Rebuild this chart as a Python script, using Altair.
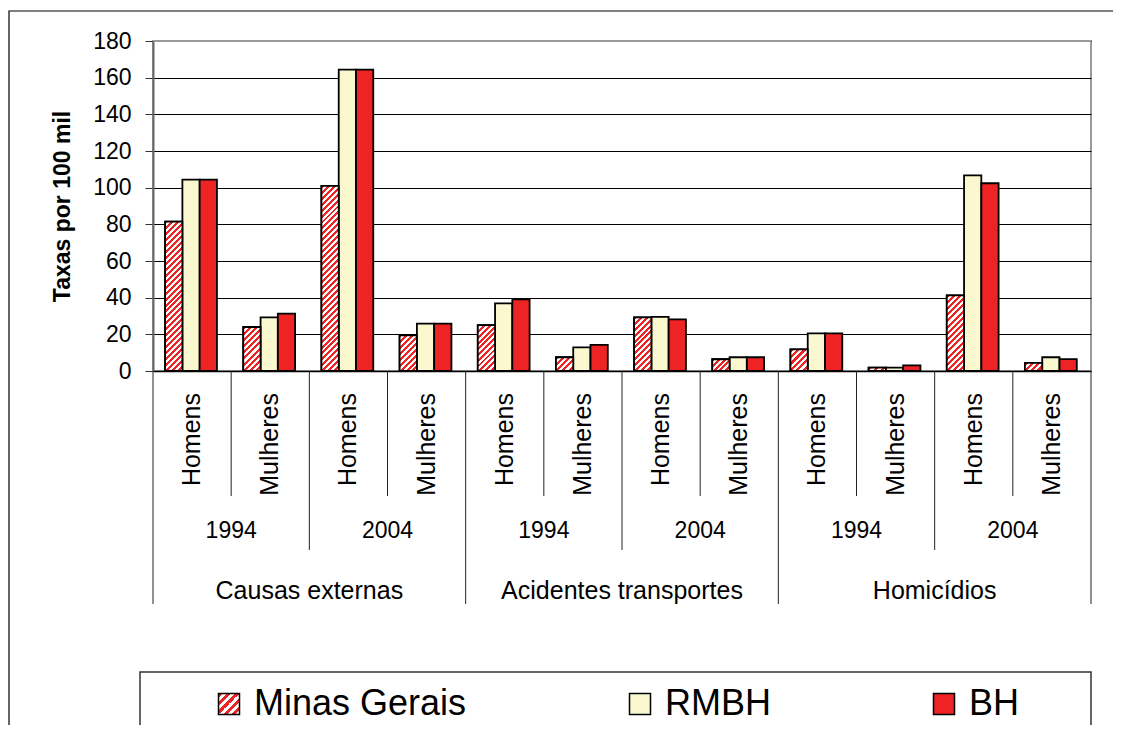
import json
import altair as alt

# ---------------- data ----------------
causes = ["Causas externas", "Acidentes transportes", "Homicídios"]
years = ["1994", "2004"]
sexes = ["Homens", "Mulheres"]
series = ["Minas Gerais", "RMBH", "BH"]

# one value per (cause, year, sex) group, in that order
minas_gerais = [81.5, 24.0, 101.0, 19.5, 25.0, 7.5, 29.3, 6.4, 11.8, 1.8, 41.3, 4.4]
rmbh = [104.4, 29.3, 164.4, 25.8, 36.9, 12.9, 29.5, 7.5, 20.5, 1.8, 106.7, 7.5]
bh = [104.4, 31.3, 164.4, 25.8, 39.1, 14.2, 28.2, 7.5, 20.5, 3.1, 102.4, 6.5]

y_ticks = [0, 20, 40, 60, 80, 100, 120, 140, 160, 180]

# ---------------- layout / style ----------------
W, H = 938, 330
Y_MAX = 180
PX_PER_UNIT = H / Y_MAX
N_GROUPS = len(causes) * len(years) * len(sexes)
GROUP_PX = W / N_GROUPS
BAR_START, BAR_W = 0.155, 0.221
RED = "#EE2424"
CREAM = "#FBF8D0"
FONT = "Liberation Sans"


def stripe_gradient(w_px, h_px, period):
    """Diagonal red/white stripes for a box of w_px x h_px (objectBoundingBox)."""
    n = max(1, round((w_px + h_px) / period))
    k = (w_px + h_px) / (w_px ** 2 + h_px ** 2)
    stops = []
    for i in range(n):
        a, b, c = i / n, (i + 0.5) / n, (i + 1) / n
        stops += [
            {"offset": a, "color": RED},
            {"offset": b, "color": RED},
            {"offset": b, "color": "#FFFFFF"},
            {"offset": c, "color": "#FFFFFF"},
        ]
    return {"gradient": "linear", "x1": 0, "y1": 0,
            "x2": k * w_px, "y2": k * h_px, "stops": stops}


# bar records
bar_rows = []
for si, (name, vals) in enumerate(zip(series, [minas_gerais, rmbh, bh])):
    for g, v in enumerate(vals):
        row = {"g": g, "si": si, "series": name, "value": v}
        if si == 0:
            row["grad"] = stripe_gradient(BAR_W * GROUP_PX, v * PX_PER_UNIT, 6.0)
        bar_rows.append(row)

# label records
sex_rows, year_rows, cause_rows = [], [], []
for ci, c in enumerate(causes):
    cause_rows.append({"label": c, "center": ci * 4 + 2})
    for yi, yv in enumerate(years):
        year_rows.append({"label": yv, "center": ci * 4 + yi * 2 + 1})
        for si, s in enumerate(sexes):
            sex_rows.append({"label": s, "center": ci * 4 + yi * 2 + si + 0.5})

sep_rows = []
for b in range(N_GROUPS + 1):
    if b % (len(years) * len(sexes)) == 0:
        lvl = "cause"
    elif b % len(sexes) == 0:
        lvl = "year"
    else:
        lvl = "sex"
    sep_rows.append({"b": b, "level": lvl})

legend_grad = json.dumps(stripe_gradient(21, 21, 8.5))

# ---------------- chart ----------------
x_scale = alt.Scale(domain=[0, N_GROUPS], nice=False, zero=False)
y_scale = alt.Scale(domain=[0, Y_MAX], nice=False)

y_axis = alt.Axis(
    values=y_ticks,
    title="Taxas por 100 mil",
    titleFontSize=23,
    titleFontWeight="bold",
    titleFont=FONT,
    titleColor="black",
    titleAngle=270,
    titleX=-91,
    titleY=H / 2,
    titleAlign="center",
    titleBaseline="middle",
    labelFontSize=23,
    labelFont=FONT,
    labelColor="black",
    labelPadding=14,
    tickSize=8,
    tickColor="#333333",
    domainColor="#666666",
    domainWidth=2,
    grid=True,
    gridColor="black",
    gridWidth=1.2,
)

x_axis = alt.Axis(labels=False, ticks=False, grid=False, title=None,
                  domainColor="black", domainWidth=1.5)

legend = alt.Legend(
    orient="none", legendX=58, legendY=645, direction="horizontal", title=None,
    labelFontSize=36, labelFont=FONT, labelColor="black", labelOffset=7, labelLimit=400,
    symbolType="square", symbolSize=441, symbolStrokeColor="black", symbolStrokeWidth=1.5,
    symbolOpacity=1, columnPadding=155, padding=0,
)

base = alt.Chart(alt.Data(values=bar_rows)).transform_calculate(
    x0=f"datum.g + {BAR_START} + datum.si * {BAR_W}",
    x1=f"datum.g + {BAR_START} + (datum.si + 1) * {BAR_W}",
    zero="0",
)

bars = base.mark_rect(stroke="black", strokeWidth=1.8).encode(
    x=alt.X("x0:Q", scale=x_scale, axis=x_axis),
    x2="x1:Q",
    y=alt.Y("value:Q", scale=y_scale, axis=y_axis),
    y2="zero:Q",
    fill=alt.Fill(
        "series:N",
        scale=alt.Scale(domain=series, range=[alt.ExprRef(legend_grad), CREAM, RED]),
        legend=legend,
    ),
)

mg = base.transform_filter("datum.si == 0").mark_rect(stroke="black", strokeWidth=1.8).encode(
    x=alt.X("x0:Q", scale=x_scale, axis=x_axis),
    x2="x1:Q",
    y=alt.Y("value:Q", scale=y_scale, axis=y_axis),
    y2="zero:Q",
    fill=alt.Fill("grad:N", scale=None, legend=None),
)

# top edge of the plot (value 180) is drawn grey like the plot frame
top_line = alt.Chart(alt.Data(values=[{"v": Y_MAX}])).mark_rule(color="#9A9A9A", strokeWidth=2).encode(
    y=alt.Y("v:Q", scale=y_scale, axis=y_axis),
    x=alt.value(0),
    x2=alt.value(W),
)

seps = alt.Chart(alt.Data(values=sep_rows))
sep_len = {"sex": 125, "year": 179, "cause": 233}
sep_layers = [
    seps.transform_filter(f"datum.level == '{lvl}'").mark_rule(color="#222222", strokeWidth=1).encode(
        x=alt.X("b:Q", scale=x_scale, axis=x_axis),
        y=alt.value(H),
        y2=alt.value(H + L),
    )
    for lvl, L in sep_len.items()
]

sex_text = alt.Chart(alt.Data(values=sex_rows)).mark_text(
    angle=270, align="right", baseline="middle", fontSize=25, font=FONT, color="black"
).encode(x=alt.X("center:Q", scale=x_scale, axis=x_axis), y=alt.value(H + 22), text="label:N")

year_text = alt.Chart(alt.Data(values=year_rows)).mark_text(
    align="center", baseline="middle", fontSize=23, font=FONT, color="black"
).encode(x=alt.X("center:Q", scale=x_scale, axis=x_axis), y=alt.value(H + 160), text="label:N")

cause_text = alt.Chart(alt.Data(values=cause_rows)).mark_text(
    align="center", baseline="middle", fontSize=25, font=FONT, color="black"
).encode(x=alt.X("center:Q", scale=x_scale, axis=x_axis), y=alt.value(H + 220), text="label:N")

one = alt.Data(values=[{"k": 1}])
outer_frame = alt.Chart(one).mark_rect(fillOpacity=0, stroke="black", strokeWidth=1.2).encode(
    x=alt.value(-144), x2=alt.value(W + 60), y=alt.value(-30), y2=alt.value(H + 420)
)
legend_frame = alt.Chart(one).mark_rect(fillOpacity=0, stroke="#333333", strokeWidth=1.5).encode(
    x=alt.value(-13), x2=alt.value(W), y=alt.value(631), y2=alt.value(H + 420)
)

chart = alt.layer(
    outer_frame, legend_frame, bars, mg, top_line, *sep_layers, sex_text, year_text, cause_text
).properties(
    width=W, height=H,
    autosize=alt.AutoSizeParams(type="none"),
    padding={"left": 145, "top": 33, "right": 22, "bottom": 354},
).configure(font=FONT).configure_view(stroke="#9A9A9A", strokeWidth=2)

chart.save("out.html", embed_options={"renderer": "svg", "actions": False})
